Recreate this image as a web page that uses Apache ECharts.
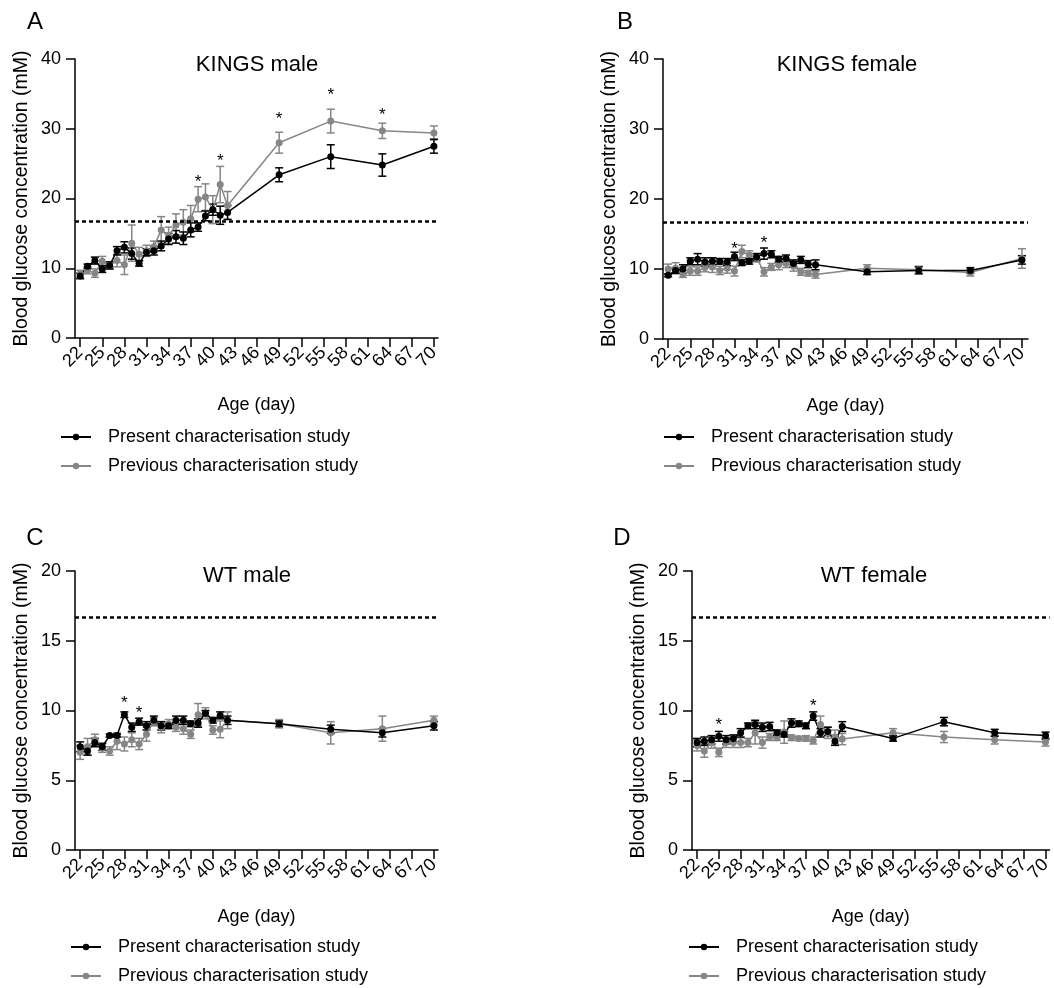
<!DOCTYPE html>
<html>
<head>
<meta charset="utf-8">
<script src="https://cdn.jsdelivr.net/npm/echarts@6/dist/echarts.min.js"></script>
<style>
  html, body { margin: 0; padding: 0; background: #fff; }
  #glucoseChart { width: 1054px; height: 988px; }
</style>
</head>
<body>
<div id="glucoseChart"></div>
<script>
// age in days, daily until 42 then weekly
var days = [22, 23, 24, 25, 26, 27, 28, 29, 30, 31, 32, 33, 34, 35, 36, 37, 38, 39, 40, 41, 42, 49, 56, 63, 70];
var xTicks = [22, 25, 28, 31, 34, 37, 40, 43, 46, 49, 52, 55, 58, 61, 64, 67, 70];
var threshold = 16.7;

// KINGS male
var kingsMalePresent = [8.9, 10.3, 11.1, 9.9, 10.4, 12.5, 13.0, 12.1, 10.7, 12.3, 12.5, 13.2, 14.2, 14.5, 14.3, 15.5, 15.9, 17.5, 18.4, 17.6, 18.0, 23.4, 26.0, 24.8, 27.5];
var kingsMalePresentSem = [0.4, 0.3, 0.5, 0.5, 0.5, 0.6, 0.8, 0.8, 0.4, 0.5, 0.6, 0.7, 0.8, 0.9, 0.9, 1.0, 0.6, 0.7, 0.8, 1.3, 1.0, 1.0, 1.7, 1.6, 1.0];
var kingsMalePrevious = [9.2, 9.7, 9.3, 11.0, 10.4, 11.1, 10.5, 13.6, 12.0, 12.5, 13.1, 15.5, 14.7, 16.2, 16.6, 17.1, 19.9, 20.2, 18.4, 22.0, 19.0, 28.0, 31.1, 29.7, 29.4];
var kingsMalePreviousSem = [0.5, 0.5, 0.6, 0.7, 0.5, 0.9, 1.4, 2.6, 1.0, 0.8, 0.8, 1.9, 1.2, 1.6, 1.8, 1.9, 1.8, 1.9, 2.0, 2.6, 2.0, 1.5, 1.7, 1.1, 1.0];
var kingsMaleStars = [[38, 22.3], [41, 25.3], [49, 31.3], [56, 34.8], [63, 31.9]];

// KINGS female
var kingsFemalePresent = [9.1, 9.8, 10.0, 11.1, 11.4, 11.0, 11.1, 11.1, 11.0, 11.8, 10.9, 11.1, 11.7, 12.2, 12.1, 11.4, 11.5, 10.8, 11.3, 10.7, 10.6, 9.6, 9.8, 9.8, 11.3];
var kingsFemalePresentSem = [0.2, 0.4, 0.6, 0.5, 0.8, 0.6, 0.5, 0.4, 0.5, 0.6, 0.4, 0.4, 0.5, 0.8, 0.5, 0.4, 0.5, 0.5, 0.5, 0.5, 0.7, 0.4, 0.5, 0.4, 0.6];
var kingsFemalePrevious = [10.0, 10.1, 9.3, 9.7, 9.7, 10.2, 10.3, 9.8, 10.1, 9.7, 12.5, 12.0, 11.6, 9.6, 10.3, 10.6, 10.8, 10.4, 9.6, 9.4, 9.2, 10.1, 9.9, 9.5, 11.5];
var kingsFemalePreviousSem = [0.7, 0.8, 0.5, 0.6, 0.6, 0.6, 0.8, 0.6, 0.7, 0.7, 0.9, 0.6, 0.6, 0.6, 0.5, 0.7, 0.6, 0.7, 0.5, 0.4, 0.5, 0.5, 0.5, 0.5, 1.4];
var kingsFemaleStars = [[31, 12.85], [35, 13.65]];

// WT male
var wtMalePresent = [7.4, 7.1, 7.7, 7.4, 8.2, 8.2, 9.7, 8.8, 9.2, 8.9, 9.3, 8.9, 8.9, 9.3, 9.3, 9.05, 9.1, 9.8, 9.3, 9.65, 9.3, 9.05, 8.65, 8.4, 8.9];
var wtMalePresentSem = [0.35, 0.3, 0.3, 0.25, 0.1, 0.1, 0.2, 0.3, 0.25, 0.3, 0.3, 0.3, 0.2, 0.3, 0.3, 0.2, 0.3, 0.2, 0.2, 0.25, 0.3, 0.2, 0.3, 0.3, 0.3];
var wtMalePrevious = [7.0, 7.4, 7.9, 7.3, 7.1, 7.8, 7.6, 7.9, 7.6, 8.3, 9.2, 8.8, 9.05, 8.8, 8.7, 8.3, 9.7, 9.8, 8.6, 8.65, 9.3, 9.05, 8.4, 8.7, 9.3];
var wtMalePreviousSem = [0.5, 0.6, 0.4, 0.3, 0.3, 0.6, 0.5, 0.5, 0.4, 0.5, 0.3, 0.4, 0.3, 0.3, 0.4, 0.3, 0.8, 0.4, 0.3, 0.6, 0.6, 0.3, 0.8, 0.9, 0.3];
var wtMaleStars = [[28, 10.5], [30, 9.77]];

// WT female
var wtFemalePresent = [7.7, 7.8, 7.9, 8.15, 7.9, 8.0, 8.4, 8.9, 9.0, 8.8, 8.85, 8.4, 8.3, 9.1, 9.05, 8.9, 9.6, 8.4, 8.5, 7.8, 8.85, 8.0, 9.2, 8.4, 8.2];
var wtFemalePresentSem = [0.3, 0.3, 0.3, 0.35, 0.3, 0.25, 0.3, 0.2, 0.3, 0.3, 0.3, 0.2, 0.2, 0.3, 0.2, 0.2, 0.3, 0.3, 0.3, 0.3, 0.35, 0.2, 0.3, 0.25, 0.25];
var wtFemalePrevious = [7.5, 7.1, 7.7, 7.0, 7.7, 7.7, 7.7, 7.7, 8.4, 7.7, 8.1, 8.05, 8.45, 8.05, 8.0, 8.0, 7.85, 9.0, 8.4, 8.1, 7.95, 8.4, 8.1, 7.9, 7.75];
var wtFemalePreviousSem = [0.4, 0.45, 0.4, 0.3, 0.35, 0.35, 0.35, 0.3, 0.8, 0.4, 0.25, 0.2, 0.8, 0.2, 0.15, 0.2, 0.25, 0.6, 0.4, 0.5, 0.4, 0.3, 0.4, 0.3, 0.3];
var wtFemaleStars = [[25, 8.93], [38, 10.3]];

var presentName = 'Present characterisation study';
var previousName = 'Previous characterisation study';
var presentColor = '#000000';
var previousColor = '#868686';
var fontFamily = '"Liberation Sans", Arial, sans-serif';

var panels = [
  {letter: 'A', title: 'KINGS male', left: 75, top: 59, width: 363, height: 279, yMax: 40, yStep: 10,
    present: kingsMalePresent, presentSem: kingsMalePresentSem, previous: kingsMalePrevious, previousSem: kingsMalePreviousSem,
    stars: kingsMaleStars, letterPos: [35, 22], titlePos: [257, 65], legendPos: [60, 427]},
  {letter: 'B', title: 'KINGS female', left: 663, top: 59, width: 365, height: 280, yMax: 40, yStep: 10,
    present: kingsFemalePresent, presentSem: kingsFemalePresentSem, previous: kingsFemalePrevious, previousSem: kingsFemalePreviousSem,
    stars: kingsFemaleStars, letterPos: [625, 22], titlePos: [847, 65], legendPos: [663, 427]},
  {letter: 'C', title: 'WT male', left: 75, top: 571, width: 363, height: 279, yMax: 20, yStep: 5,
    present: wtMalePresent, presentSem: wtMalePresentSem, previous: wtMalePrevious, previousSem: wtMalePreviousSem,
    stars: wtMaleStars, letterPos: [35, 538], titlePos: [247, 576], legendPos: [70, 937]},
  {letter: 'D', title: 'WT female', left: 692, top: 571, width: 363, height: 279, yMax: 20, yStep: 5,
    present: wtFemalePresent, presentSem: wtFemalePresentSem, previous: wtFemalePrevious, previousSem: wtFemalePreviousSem,
    stars: wtFemaleStars, letterPos: [622, 538], titlePos: [874, 576], legendPos: [688, 937]}
];

var chartDom = document.getElementById('glucoseChart');
var myChart = echarts.init(chartDom);

function pairs(vals) {
  return days.map(function (d, i) { return [d, vals[i]]; });
}

function errorSeries(idx, vals, sem, color) {
  return {
    type: 'custom',
    xAxisIndex: idx,
    yAxisIndex: idx,
    silent: true,
    data: days.map(function (d, i) { return [d, vals[i] - sem[i], vals[i] + sem[i]]; }),
    renderItem: function (params, api) {
      var lo = api.coord([api.value(0), api.value(1)]);
      var hi = api.coord([api.value(0), api.value(2)]);
      var w = 4;
      var st = {stroke: color, lineWidth: 1.5};
      return {
        type: 'group',
        children: [
          {type: 'line', shape: {x1: hi[0], y1: hi[1], x2: lo[0], y2: lo[1]}, style: st},
          {type: 'line', shape: {x1: hi[0] - w, y1: hi[1], x2: hi[0] + w, y2: hi[1]}, style: st},
          {type: 'line', shape: {x1: lo[0] - w, y1: lo[1], x2: lo[0] + w, y2: lo[1]}, style: st}
        ]
      };
    }
  };
}

function lineSeries(idx, name, vals, color, withThreshold) {
  var s = {
    type: 'line',
    name: name,
    xAxisIndex: idx,
    yAxisIndex: idx,
    data: pairs(vals),
    symbol: 'circle',
    symbolSize: 7,
    showSymbol: true,
    animation: false,
    lineStyle: {color: color, width: 1.5},
    itemStyle: {color: color}
  };
  if (withThreshold) {
    s.markLine = {
      silent: true,
      symbol: 'none',
      label: {show: false},
      lineStyle: {color: '#000', type: [4, 3], width: 2.5},
      data: [{yAxis: threshold}]
    };
  }
  return s;
}

function starSeries(idx, stars) {
  return {
    type: 'custom',
    xAxisIndex: idx,
    yAxisIndex: idx,
    silent: true,
    data: stars,
    renderItem: function (params, api) {
      var p = api.coord([api.value(0), api.value(1)]);
      return {
        type: 'text',
        x: p[0],
        y: p[1],
        style: {text: '*', fill: '#000', font: '17px ' + fontFamily, align: 'center', verticalAlign: 'middle'}
      };
    }
  };
}

var grid = [], xAxis = [], yAxis = [], series = [], legend = [], graphic = [];

panels.forEach(function (p, i) {
  var xMin = 21.3;
  var xMax = 21.3 + p.width / 7.37;
  // blank labels at both ends take the min/max overlap check, so 22..70 all stay visible
  var labelValues = [xMin].concat(xTicks, [xMax]);
  grid.push({left: p.left, top: p.top, width: p.width, height: p.height, containLabel: false});
  xAxis.push({
    type: 'value',
    gridIndex: i,
    min: xMin,
    max: xMax,
    name: 'Age (day)',
    nameLocation: 'middle',
    nameGap: 58,
    nameTextStyle: {fontSize: 18, color: '#000', fontFamily: fontFamily},
    axisLine: {onZero: false, lineStyle: {color: '#000', width: 1.5}},
    axisTick: {customValues: xTicks, length: 9, lineStyle: {color: '#000', width: 1.5}},
    axisLabel: {
      customValues: labelValues, rotate: 45, margin: 12, fontSize: 18, color: '#000', fontFamily: fontFamily,
      showMinLabel: false, showMaxLabel: false, hideOverlap: false,
      formatter: function (v) { return xTicks.indexOf(v) >= 0 ? String(v) : ''; }
    },
    splitLine: {show: false}
  });
  yAxis.push({
    type: 'value',
    gridIndex: i,
    min: 0,
    max: p.yMax,
    interval: p.yStep,
    name: 'Blood glucose concentration (mM)',
    nameLocation: 'middle',
    nameGap: 43,
    nameTextStyle: {fontSize: 19.5, color: '#000', fontFamily: fontFamily},
    axisLine: {show: true, lineStyle: {color: '#000', width: 1.5}},
    axisTick: {show: true, length: 9, lineStyle: {color: '#000', width: 1.5}},
    axisLabel: {fontSize: 18, color: '#000', margin: 14, fontFamily: fontFamily},
    splitLine: {show: false}
  });
  series.push(errorSeries(i, p.previous, p.previousSem, previousColor));
  series.push(lineSeries(i, previousName, p.previous, previousColor, false));
  series.push(errorSeries(i, p.present, p.presentSem, presentColor));
  series.push(lineSeries(i, presentName, p.present, presentColor, true));
  series.push(starSeries(i, p.stars));
  legend.push({
    left: p.legendPos[0],
    top: p.legendPos[1],
    orient: 'vertical',
    padding: 0,
    data: [presentName, previousName],
    itemWidth: 30,
    itemHeight: 8,
    itemGap: 9,
    selectedMode: false,
    textStyle: {fontSize: 18, color: '#000', fontFamily: fontFamily, lineHeight: 20, padding: [0, 0, 0, 12]}
  });
  graphic.push({
    type: 'text', x: p.letterPos[0], y: p.letterPos[1],
    style: {text: p.letter, font: '24px ' + fontFamily, fill: '#000', align: 'center', verticalAlign: 'middle'}
  });
  graphic.push({
    type: 'text', x: p.titlePos[0], y: p.titlePos[1],
    style: {text: p.title, font: '22px ' + fontFamily, fill: '#000', align: 'center', verticalAlign: 'middle'}
  });
});

var option = {
  backgroundColor: '#fff',
  animation: false,
  textStyle: {fontFamily: fontFamily},
  grid: grid,
  xAxis: xAxis,
  yAxis: yAxis,
  legend: legend,
  graphic: graphic,
  series: series
};

option && myChart.setOption(option);
</script>
</body>
</html>
